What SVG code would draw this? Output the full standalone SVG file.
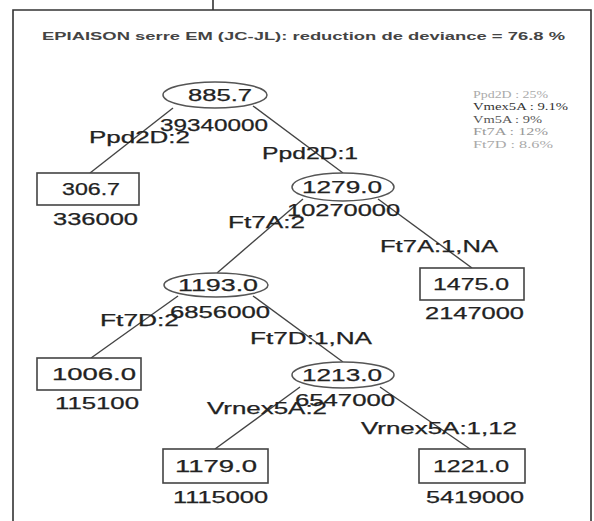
<svg xmlns="http://www.w3.org/2000/svg" width="594" height="521" viewBox="0 0 594 521">
<style>
.frame{fill:none;stroke:#333;stroke-width:1.6}
.edge{stroke:#444;stroke-width:1.4;fill:none}
.ell{fill:#fff;stroke:#555;stroke-width:1.5}
.box{fill:#fff;stroke:#444;stroke-width:1.6}
.t{font-family:"Liberation Sans",Arial,sans-serif;font-size:16px;fill:#222;stroke:#222;stroke-width:0.25}
.title{font-family:"Liberation Sans",Arial,sans-serif;font-size:11px;font-weight:bold;fill:#444}
.leg{font-family:"Liberation Serif","Times New Roman",serif;font-size:10px}
</style>
<rect x="0" y="0" width="594" height="521" fill="#fff"/>
<g id="frame">
<line x1="213" y1="0" x2="213" y2="10" class="frame"/>
<polyline points="13,521 13,10 591,10 591,521" class="frame"/>
</g>
<text class="title" x="42" y="40" textLength="523" lengthAdjust="spacingAndGlyphs">EPIAISON serre EM (JC-JL): reduction de deviance = 76.8 %</text>
<g id="legend" class="leg">
<text x="473" y="98" fill="#aaa" textLength="75" lengthAdjust="spacingAndGlyphs">Ppd2D : 25%</text>
<text x="473" y="110" fill="#333" textLength="95" lengthAdjust="spacingAndGlyphs">Vmex5A : 9.1%</text>
<text x="473" y="123" fill="#555" textLength="69" lengthAdjust="spacingAndGlyphs">Vm5A : 9%</text>
<text x="473" y="135" fill="#999" textLength="75" lengthAdjust="spacingAndGlyphs">Ft7A : 12%</text>
<text x="473" y="148" fill="#aaa" textLength="80" lengthAdjust="spacingAndGlyphs">Ft7D : 8.6%</text>
</g>
<g id="connectors">
<line class="edge" x1="173" y1="108" x2="90" y2="173"/>
<line class="edge" x1="253" y1="106" x2="343" y2="173"/>
<line class="edge" x1="303" y1="199" x2="217" y2="273"/>
<line class="edge" x1="378" y1="199" x2="472" y2="268"/>
<line class="edge" x1="178" y1="296" x2="91" y2="358"/>
<line class="edge" x1="253" y1="296" x2="343" y2="362"/>
<line class="edge" x1="300" y1="387" x2="215" y2="449"/>
<line class="edge" x1="380" y1="387" x2="470" y2="449"/>
</g>
<g id="edge-labels" class="t">
<text x="89" y="143" textLength="101" lengthAdjust="spacingAndGlyphs">Ppd2D:2</text>
<text x="262" y="159" textLength="96" lengthAdjust="spacingAndGlyphs">Ppd2D:1</text>
<text x="228" y="228" textLength="77" lengthAdjust="spacingAndGlyphs">Ft7A:2</text>
<text x="380" y="252" textLength="118" lengthAdjust="spacingAndGlyphs">Ft7A:1,NA</text>
<text x="100" y="326" textLength="79" lengthAdjust="spacingAndGlyphs">Ft7D:2</text>
<text x="250" y="344" textLength="122" lengthAdjust="spacingAndGlyphs">Ft7D:1,NA</text>
<text x="207" y="414" textLength="120" lengthAdjust="spacingAndGlyphs">Vrnex5A:2</text>
<text x="361" y="434" textLength="156" lengthAdjust="spacingAndGlyphs">Vrnex5A:1,12</text>
</g>
<g id="n1">
<ellipse class="ell" cx="215" cy="95" rx="52" ry="13"/>
<text class="t" x="188" y="101" textLength="64" lengthAdjust="spacingAndGlyphs">885.7</text>
<text class="t" x="160" y="131" textLength="108" lengthAdjust="spacingAndGlyphs">39340000</text>
</g>
<g id="n2">
<rect class="box" x="37" y="173" width="102" height="32"/>
<text class="t" x="62" y="195" textLength="58" lengthAdjust="spacingAndGlyphs">306.7</text>
<text class="t" x="53" y="225" textLength="85" lengthAdjust="spacingAndGlyphs">336000</text>
</g>
<g id="n3">
<ellipse class="ell" cx="343" cy="187" rx="51" ry="14"/>
<text class="t" x="302" y="193" textLength="80" lengthAdjust="spacingAndGlyphs">1279.0</text>
<text class="t" x="287" y="216" textLength="113" lengthAdjust="spacingAndGlyphs">10270000</text>
</g>
<g id="n6">
<ellipse class="ell" cx="216" cy="285" rx="52" ry="12"/>
<text class="t" x="178" y="291" textLength="80" lengthAdjust="spacingAndGlyphs">1193.0</text>
<text class="t" x="170" y="318" textLength="100" lengthAdjust="spacingAndGlyphs">6856000</text>
</g>
<g id="n7">
<rect class="box" x="420" y="268" width="104" height="32"/>
<text class="t" x="433" y="290" textLength="76" lengthAdjust="spacingAndGlyphs">1475.0</text>
<text class="t" x="425" y="319" textLength="99" lengthAdjust="spacingAndGlyphs">2147000</text>
</g>
<g id="n12">
<rect class="box" x="37" y="358" width="104" height="32"/>
<text class="t" x="52" y="380" textLength="84" lengthAdjust="spacingAndGlyphs">1006.0</text>
<text class="t" x="55" y="409" textLength="84" lengthAdjust="spacingAndGlyphs">115100</text>
</g>
<g id="n13">
<ellipse class="ell" cx="343" cy="375" rx="51" ry="13"/>
<text class="t" x="302" y="381" textLength="80" lengthAdjust="spacingAndGlyphs">1213.0</text>
<text class="t" x="295" y="406" textLength="100" lengthAdjust="spacingAndGlyphs">6547000</text>
</g>
<g id="n26">
<rect class="box" x="163" y="449" width="105" height="34"/>
<text class="t" x="175" y="472" textLength="82" lengthAdjust="spacingAndGlyphs">1179.0</text>
<text class="t" x="173" y="503" textLength="95" lengthAdjust="spacingAndGlyphs">1115000</text>
</g>
<g id="n27">
<rect class="box" x="419" y="449" width="106" height="34"/>
<text class="t" x="433" y="472" textLength="76" lengthAdjust="spacingAndGlyphs">1221.0</text>
<text class="t" x="426" y="503" textLength="98" lengthAdjust="spacingAndGlyphs">5419000</text>
</g>
</svg>
